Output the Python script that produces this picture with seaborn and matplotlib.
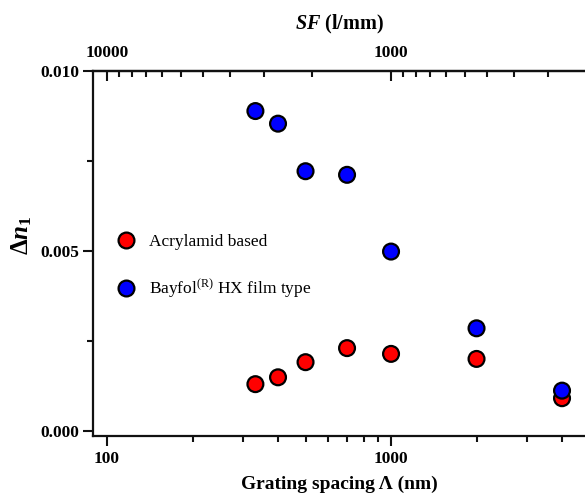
import numpy as np
import pandas as pd
import matplotlib
matplotlib.use("Agg")
import matplotlib.pyplot as plt
from matplotlib.ticker import FixedLocator, NullFormatter, FixedFormatter
import seaborn as sns

# Grating spacing (nm) and refractive index modulation for the two materials
spacing = [333, 400, 500, 700, 1000, 2000, 4000]
acrylamid = [0.00130, 0.00149, 0.00191, 0.00230, 0.00214, 0.00200, 0.00091]
bayfol = [0.00888, 0.00853, 0.00721, 0.00711, 0.00498, 0.00285, 0.00112]

labels = ["Acrylamid based", "Bayfol$^{\\mathregular{(R)}}$ HX film type"]
colors = ["#ff0000", "#0000ff"]

df = pd.DataFrame({
    "spacing": spacing + spacing,
    "dn": acrylamid + bayfol,
    "material": [labels[0]] * len(spacing) + [labels[1]] * len(spacing),
})

sns.set_style("ticks")
plt.rcParams["font.family"] = ["Liberation Serif", "DejaVu Serif"]
plt.rcParams["font.weight"] = "bold"
plt.rcParams["text.color"] = "black"
plt.rcParams["axes.labelcolor"] = "black"
plt.rcParams["mathtext.fontset"] = "custom"
plt.rcParams["mathtext.rm"] = "Liberation Serif:bold"
plt.rcParams["mathtext.bf"] = "Liberation Serif:bold"
plt.rcParams["mathtext.it"] = "Liberation Serif:italic:bold"

fig = plt.figure(figsize=(5.85, 5.0), dpi=100)
ax = fig.add_axes([0.1598, 0.1288, 0.8402, 0.7298])

sns.scatterplot(data=df, x="spacing", y="dn", hue="material",
                palette=colors, s=130, edgecolor="black", linewidth=1.6,
                ax=ax, zorder=3)

ax.set_xscale("log")
ax.set_xlim(89.6, 4819)
ax.set_ylim(-0.000128, 0.010)

# bottom axis
ax.xaxis.set_major_locator(FixedLocator([100, 1000]))
ax.xaxis.set_major_formatter(FixedFormatter(["100", "1000"]))
minor_x = [200, 300, 400, 500, 600, 700, 800, 900, 2000, 3000, 4000]
ax.xaxis.set_minor_locator(FixedLocator(minor_x))
ax.xaxis.set_minor_formatter(NullFormatter())

# left axis
ax.yaxis.set_major_locator(FixedLocator([0.0, 0.005, 0.010]))
ax.yaxis.set_major_formatter(FixedFormatter(["0.000", "0.005", "0.010"]))
ax.yaxis.set_minor_locator(FixedLocator([0.0025, 0.0075]))

ax.tick_params(which="major", direction="out", length=7, width=1.5,
               labelsize=12.5, pad=3, color="#111111", labelcolor="black")
ax.tick_params(which="minor", direction="out", length=4, width=1.5,
               color="#111111")
ax.tick_params(axis="x", which="major", pad=4)

for side in ["left", "bottom", "top"]:
    ax.spines[side].set_linewidth(1.6)
    ax.spines[side].set_color("#111111")
ax.spines["right"].set_visible(False)

ax.set_xlabel("Grating spacing \u039b (nm)", fontsize=14, fontweight="bold",
              labelpad=6, color="black")
ax.set_ylabel("$\\Delta n_1$", fontsize=18, color="black")
ax.yaxis.set_label_coords(-0.121, 0.55)

# top axis: spatial frequency in lines per mm
top = ax.secondary_xaxis("top", functions=(lambda x: 1e6 / x, lambda x: 1e6 / x))
top.xaxis.set_major_locator(FixedLocator([10000, 1000]))
top.xaxis.set_major_formatter(FixedFormatter(["10000", "1000"]))
top_minor = list(np.arange(9100, 1000, -900)) + list(np.arange(910, 200, -90))
top.xaxis.set_minor_locator(FixedLocator(top_minor))
top.xaxis.set_minor_formatter(NullFormatter())
top.tick_params(which="major", direction="in", length=7, width=1.5,
                labelsize=12.5, pad=7, color="#111111", labelcolor="black")
top.tick_params(which="minor", direction="in", length=4, width=1.5,
                color="#111111")
top.spines["top"].set_linewidth(1.6)
top.spines["top"].set_color("#111111")
top.set_xlabel("$SF$ (l/mm)", fontsize=14.5, fontweight="bold", labelpad=11,
               color="black")

handles, labs = ax.get_legend_handles_labels()
leg = ax.legend(handles, labs, loc="upper left", bbox_to_anchor=(0.0, 0.595),
                frameon=False, prop={"family": "Liberation Serif",
                                     "weight": "normal", "size": 12.5},
                handletextpad=0.3, labelspacing=1.55, markerscale=1.0,
                labelcolor="black")

fig.savefig("out.png", dpi=100)
